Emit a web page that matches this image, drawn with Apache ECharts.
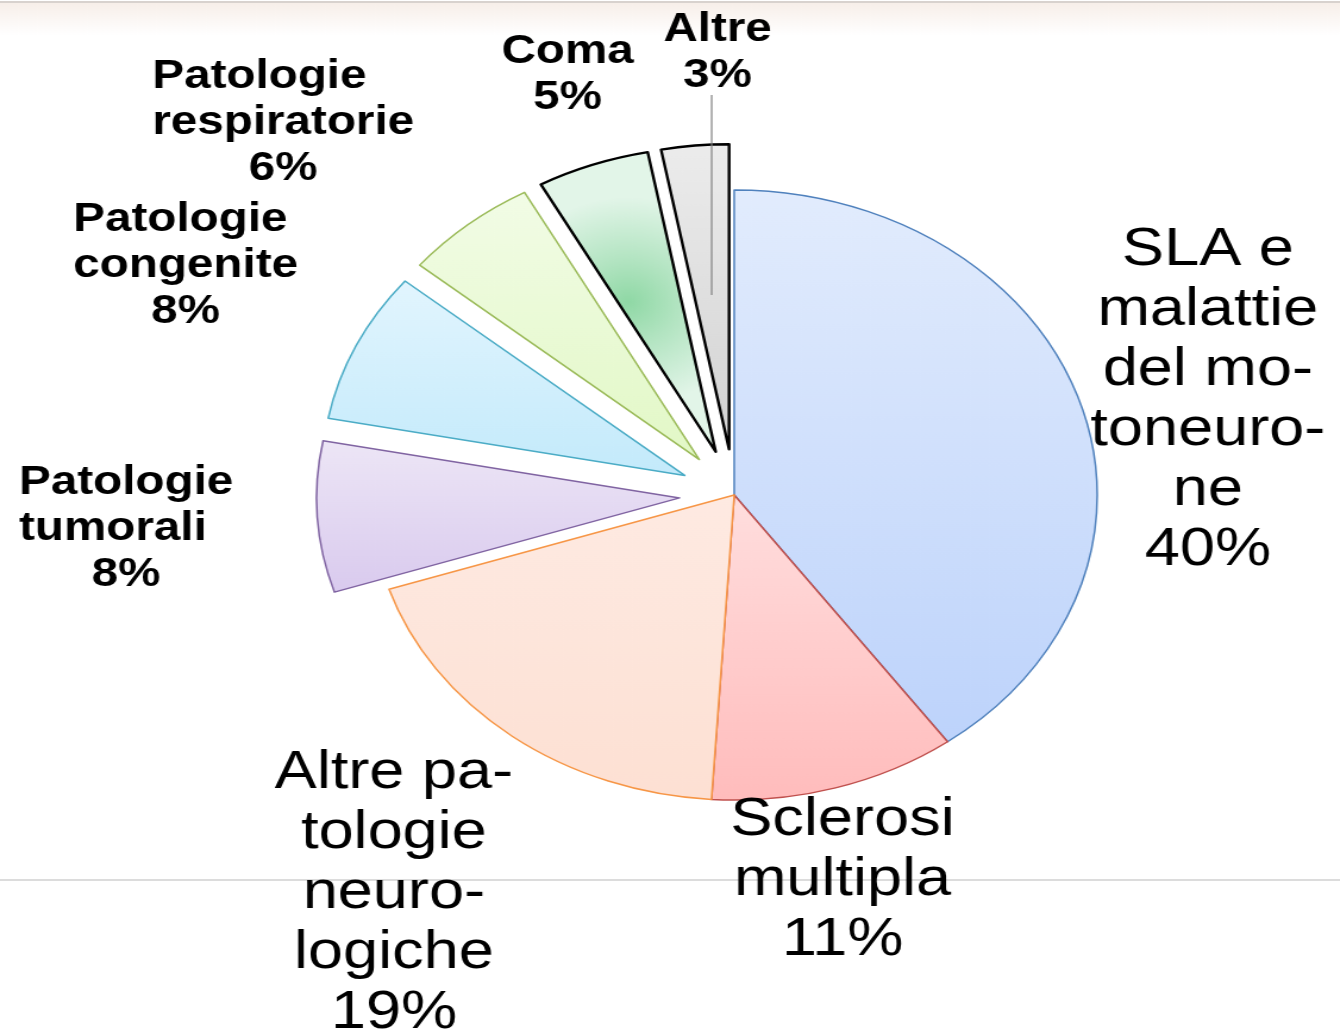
<!DOCTYPE html>
<html>
<head>
<meta charset="utf-8">
<script src="https://cdn.jsdelivr.net/npm/echarts@6.0.0/dist/echarts.min.js"></script>
<style>
  html, body { margin: 0; padding: 0; background: #fff; overflow: hidden; }
  /* the original slide is stretched horizontally, text included */
  #main { width: 1126px; height: 1036px; transform: scaleX(1.19); transform-origin: 0 0; }
</style>
</head>
<body>
<div id="main"></div>
<script>
// dati
const categories = ['SLA e malattie del motoneurone', 'Sclerosi multipla', 'Altre patologie neurologiche',
  'Patologie tumorali', 'Patologie congenite', 'Patologie respiratorie', 'Coma', 'Altre'];
const percents = [40, 11, 19, 8, 8, 6, 5, 3];
const exploded = [false, false, false, true, true, true, true, true];
// righe delle etichette come nella slide
const labelRows = [
  ['SLA e', 'malattie', 'del mo-', 'toneuro-', 'ne'],
  ['Sclerosi', 'multipla'],
  ['Altre pa-', 'tologie', 'neuro-', 'logiche'],
  ['Patologie', 'tumorali'],
  ['Patologie', 'congenite'],
  ['Patologie', 'respiratorie'],
  ['Coma'],
  ['Altre']
];
const boldLabel = [false, false, false, true, true, true, true, true];

const fills = [
  ['#e2ecfd', '#bdd3fb'],
  ['#ffdede', '#ffbcbc'],
  ['#feeae2', '#fde0d3'],
  ['#ede6f6', '#d9caee'],
  ['#e2f5fe', '#c3eafb'],
  ['#f2fce6', '#e2f8c6'],
  null,
  ['#ececec', '#d2d2d2']
];
const borders = ['#4f81bd', '#c0504d', '#f79646', '#8064a2', '#4bacc6', '#9bbb59', '#000', '#000'];
const labelPos = [[1015, 400], [708, 880], [331, 893], [106, 529], [156, 266], [238, 123], [477, 75], [603, 53]];

const chart = echarts.init(document.getElementById('main'), null, { renderer: 'canvas' });

const boldFont = { fontFamily: 'Liberation Sans, Arial', fontWeight: 'bold', fontSize: 40, lineHeight: 46, color: '#000' };

// spicchi
const sliceData = categories.map(function (name, i) {
  const color = fills[i] ? {
    type: 'linear', x: 0, y: 0, x2: 0, y2: 1,
    colorStops: [{ offset: 0, color: fills[i][0] }, { offset: 1, color: fills[i][1] }]
  } : {
    type: 'radial', x: 0.5, y: 0.5, r: 0.7,
    colorStops: [{ offset: 0, color: '#8fd8a5' }, { offset: 0.4, color: '#b2e4c1' }, { offset: 1, color: '#e2f5e8' }]
  };
  return {
    name: name,
    value: percents[i],
    selected: exploded[i],
    itemStyle: {
      color: color,
      borderColor: borders[i],
      borderWidth: (i >= 6) ? 2.4 : 1.5
    }
  };
});

// etichette (serie trasparente, senza selezione)
const labelData = categories.map(function (name, i) {
  let label;
  if (boldLabel[i]) {
    label = {
      formatter: labelRows[i].map(function (r) { return '{t|' + r + '}'; }).join('\n') + '\n{p|' + percents[i] + '%}',
      rich: {
        t: Object.assign({ align: 'left' }, boldFont),
        p: Object.assign({ align: 'center' }, boldFont)
      }
    };
  } else {
    label = {
      formatter: labelRows[i].join('\n') + '\n' + percents[i] + '%',
      fontFamily: 'Liberation Sans, Arial',
      fontSize: 53,
      lineHeight: 60,
      color: '#000'
    };
  }
  return { name: name, value: percents[i], label: label };
});

var option = {
  backgroundColor: '#fff',
  animation: false,
  graphic: [
    { type: 'rect', shape: { x: 0, y: 3, width: 1126, height: 32 },
      style: { fill: { type: 'linear', x: 0, y: 0, x2: 0, y2: 1,
        colorStops: [{ offset: 0, color: '#f7efe9' }, { offset: 1, color: '#ffffff' }] } }, silent: true },
    { type: 'line', shape: { x1: 0, y1: 2, x2: 1126, y2: 2 }, style: { stroke: '#d8d2ce', lineWidth: 2 }, silent: true },
    { type: 'line', shape: { x1: 0, y1: 880, x2: 1126, y2: 880 }, style: { stroke: '#dcdcdc', lineWidth: 2 }, silent: true },
    // linea guida di "Altre"
    { type: 'line', shape: { x1: 598, y1: 95, x2: 598, y2: 295 }, style: { stroke: '#808080', lineWidth: 1.2 }, silent: true, z: 10 }
  ],
  series: [{
    type: 'pie',
    center: [617, 495],
    radius: 305,
    startAngle: 90,
    clockwise: true,
    selectedMode: 'multiple',
    selectedOffset: 46,
    label: { show: false },
    labelLine: { show: false },
    select: { itemStyle: {} },
    emphasis: { disabled: true },
    data: sliceData
  }, {
    type: 'pie',
    center: [617, 495],
    radius: 305,
    startAngle: 90,
    clockwise: true,
    silent: true,
    avoidLabelOverlap: false,
    itemStyle: { color: 'rgba(0,0,0,0)', borderWidth: 0 },
    label: { show: true, position: 'outside' },
    labelLine: { show: false },
    labelLayout: function (params) {
      const p = labelPos[params.dataIndex];
      return { x: p[0], y: p[1], align: 'center', verticalAlign: 'middle' };
    },
    emphasis: { disabled: true },
    data: labelData
  }]
};

chart.setOption(option);
</script>
</body>
</html>
